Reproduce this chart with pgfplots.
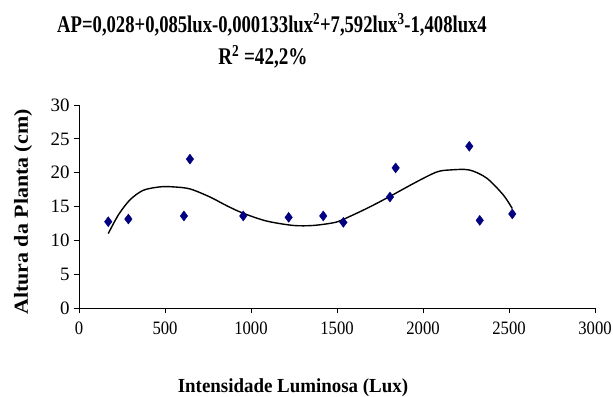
\documentclass[border=0pt]{standalone}
\usepackage{pgfplots}
\pgfplotsset{compat=1.18}
\usepackage{fontspec}
\setmainfont{Liberation Serif}
\definecolor{navy}{RGB}{0,0,128}
\begin{document}
\begin{tikzpicture}
\useasboundingbox (-79bp,-89bp) rectangle (534bp,308bp);
\begin{axis}[
  at={(0,0)}, anchor=south west,
  scale only axis, width=516bp, height=203bp,
  xmin=0, xmax=3000, ymin=0, ymax=30,
  axis x line*=bottom, axis y line*=left,
  axis line style={line width=0.8bp},
  xtick={0,500,...,3000}, ytick={0,5,...,30},
  tick align=outside, major tick length=5bp,
  tick style={black, line width=0.8bp},
  /pgf/number format/assume math mode=true,
  /pgf/number format/set thousands separator={},
  ticklabel style={font=\fontsize{19}{19}\selectfont},
  xticklabel={\scalebox{0.88}[1]{\pgfmathprintnumber{\tick}}},
  xticklabel style={yshift=-5bp},
  yticklabel style={xshift=-1bp},
  clip=false,
]
\addplot[black, line width=1.4bp, smooth, tension=0.5] coordinates {
(170,11.0) (230,13.8) (297,16.0) (374,17.4) (471,17.9) (548,17.9) (645,17.6)
(762,16.4) (860,15.1) (955,14.0) (1091,12.85) (1246,12.2) (1362,12.2) (1480,12.6)
(1537,13.1) (1680,14.8) (1808,16.5) (1963,18.65) (2080,20.1) (2157,20.4) (2269,20.4)
(2370,19.2) (2467,16.7) (2519,14.7)
};
\addplot[only marks, mark=diamond*, mark size=5bp, color=navy, fill=navy] coordinates {
(170,12.75) (287,13.15) (610,13.6) (645,22.0) (955,13.6) (1219,13.4) (1420,13.6)
(1537,12.65) (1808,16.4) (1841,20.7) (2269,23.9) (2330,12.95) (2519,13.9)
};
\end{axis}
\node[anchor=base, font=\bfseries\fontsize{24}{24}\selectfont] at (193bp,275bp) {\scalebox{0.78}[1]{AP=0,028+0,085lux-0,000133lux\textsuperscript{2}+7,592lux\textsuperscript{3}-1,408lux4}};
\node[anchor=base, font=\bfseries\fontsize{24}{24}\selectfont] at (184bp,243bp) {\scalebox{0.8}[1]{R\textsuperscript{2} =42,2\%}};
\node[anchor=base, font=\bfseries\fontsize{20}{20}\selectfont, rotate=90] at (-51bp,96bp) {\scalebox{1.1}[1]{Altura da Planta (cm)}};
\node[anchor=base, font=\bfseries\fontsize{20}{20}\selectfont] at (214bp,-84bp) {\scalebox{0.95}[1]{Intensidade Luminosa (Lux)}};
\end{tikzpicture}
\end{document}
